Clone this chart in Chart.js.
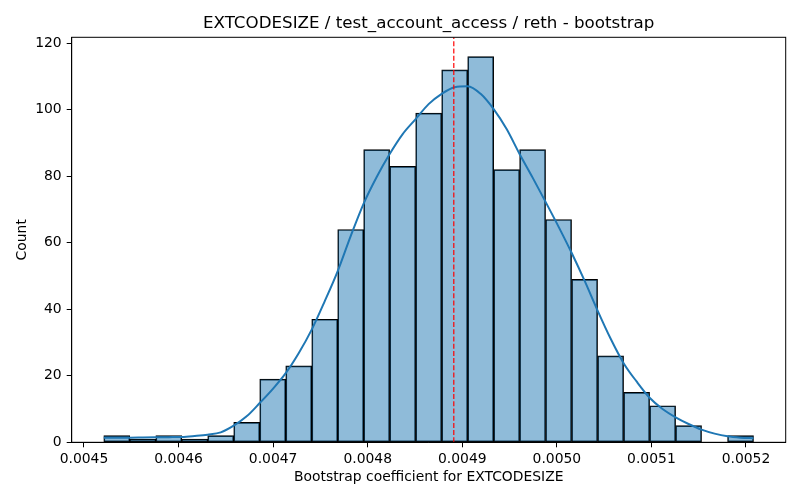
<!DOCTYPE html>
<html>
<head>
<meta charset="utf-8">
<script src="https://cdn.jsdelivr.net/npm/chart.js@4.4.1/dist/chart.umd.min.js"></script>
<style>
  body { margin: 0; background: #fff; }
  canvas { display: block; }
</style>
</head>
<body>
<canvas id="chart" width="800" height="500"></canvas>
<script>
// histogram bin edges (25 bins)
const binEdges = [
  0.0045209, 0.0045484, 0.0045759, 0.0046034, 0.0046308, 0.0046583,
  0.0046858, 0.0047133, 0.0047408, 0.0047683, 0.0047957, 0.0048232,
  0.0048507, 0.0048782, 0.0049057, 0.0049332, 0.0049606, 0.0049881,
  0.0050156, 0.0050431, 0.0050706, 0.0050981, 0.0051256, 0.0051530,
  0.0051805, 0.0052080,
];
const binCounts = [
  2, 1, 2, 1, 2, 6, 19, 23, 37, 64, 88, 83, 99,
  112, 116, 82, 88, 67, 49, 26, 15, 11, 5, 0, 2,
];

// kde curve (count scale)
const kdeX = [
  0.0045209, 0.0045346, 0.0045484, 0.0045621, 0.0045759, 0.0045896,
  0.0046034, 0.0046171, 0.0046308, 0.0046446, 0.0046583, 0.0046720,
  0.0046858, 0.0046995, 0.0047133, 0.0047270, 0.0047408, 0.0047545,
  0.0047683, 0.0047820, 0.0047957, 0.0048095, 0.0048232, 0.0048370,
  0.0048507, 0.0048644, 0.0048782, 0.0048919, 0.0049057, 0.0049194,
  0.0049332, 0.0049469, 0.0049606, 0.0049744, 0.0049881, 0.0050019,
  0.0050156, 0.0050293, 0.0050431, 0.0050568, 0.0050706, 0.0050843,
  0.0050981, 0.0051118, 0.0051256, 0.0051393, 0.0051530, 0.0051668,
  0.0051805, 0.0051942, 0.0052080,
];
const kdeY = [
  1.4, 1.4, 1.4, 1.45, 1.5, 1.55,
  1.6, 1.9, 2.3, 3.0, 5.0, 7.8,
  11.8, 16.0, 20.8, 26.8, 33.9, 42.4,
  51.5, 62.0, 71.8, 79.8, 86.7, 92.7,
  97.2, 101.7, 104.8, 106.8, 107.1, 104.8,
  100.2, 94.2, 86.7, 79.6, 72.3, 64.8,
  57.0, 48.6, 39.6, 31.2, 23.8, 18.3,
  13.4, 10.0, 7.5, 5.5, 3.8, 2.6,
  1.8, 1.4, 1.2,
];

const meanValue = 0.004891;

const xTicks = [0.0045, 0.0046, 0.0047, 0.0048, 0.0049, 0.0050, 0.0051, 0.0052];
const yTicks = [0, 20, 40, 60, 80, 100, 120];

const chartTitle = 'EXTCODESIZE / test_account_access / reth - bootstrap';
const xLabel = 'Bootstrap coefficient for EXTCODESIZE';
const yLabel = 'Count';

Chart.defaults.font.family = 'DejaVu Sans';
Chart.defaults.font.size = 13.9;
Chart.defaults.color = '#000';

const barData = binCounts.map((c, i) => ({ x: (binEdges[i] + binEdges[i + 1]) / 2, y: c }));
const kdeData = kdeX.map((x, i) => ({ x, y: kdeY[i] }));
const yMax = Math.max(...binCounts) * 1.05;

// draws the box round the plot area, like matplotlib spines
const frame = {
  id: 'frame',
  afterDatasetsDraw(chart) {
    const { ctx, chartArea: a } = chart;
    ctx.save();
    ctx.strokeStyle = '#000';
    ctx.lineWidth = 1;
    ctx.strokeRect(a.left, a.top, a.right - a.left, a.bottom - a.top);
    ctx.restore();
  },
};

const axisGrid = {
  display: true,
  drawOnChartArea: false,
  drawTicks: true,
  tickLength: 5,
  tickColor: '#000',
  tickWidth: 1,
  offset: false,
};

new Chart('chart', {
  type: 'bar',
  data: {
    datasets: [
      {
        type: 'line',
        data: [{ x: meanValue, y: 0 }, { x: meanValue, y: yMax }],
        xAxisID: 'x',
        yAxisID: 'y',
        borderColor: 'rgba(255, 0, 0, 0.85)',
        borderWidth: 1.4,
        borderDash: [5, 2.2],
        pointRadius: 0,
        order: 0,
      },
      {
        type: 'line',
        data: kdeData,
        xAxisID: 'x',
        yAxisID: 'y',
        borderColor: '#1f77b4',
        borderWidth: 2,
        pointRadius: 0,
        tension: 0.4,
        cubicInterpolationMode: 'monotone',
        order: 1,
      },
      {
        type: 'bar',
        data: barData,
        xAxisID: 'x',
        yAxisID: 'y',
        backgroundColor: 'rgba(31, 119, 180, 0.5)',
        borderColor: '#000',
        borderWidth: 1,
        borderSkipped: false,
        barPercentage: 1,
        categoryPercentage: 1,
        grouped: false,
        order: 2,
      },
    ],
  },
  options: {
    responsive: false,
    animation: false,
    layout: { padding: { left: 0, right: 14.3, top: 0, bottom: 0 } },
    plugins: {
      legend: { display: false },
      tooltip: { enabled: false },
      title: { display: false },
    },
    scales: {
      x: {
        type: 'linear',
        offset: false,
        min: 0.004487,
        max: 0.005242,
        grid: axisGrid,
        border: { display: true, color: '#000', width: 1 },
        afterBuildTicks: scale => { scale.ticks = xTicks.map(v => ({ value: v })); },
        afterFit: scale => { scale.height = 57.7; },
        ticks: {
          padding: 4,
          maxRotation: 0,
          callback: v => Number(v).toFixed(4),
        },
        title: {
          display: true,
          text: xLabel,
          padding: { top: 0, bottom: 14.7 },
        },
      },
      y: {
        type: 'linear',
        min: 0,
        max: yMax,
        grid: axisGrid,
        border: { display: true, color: '#000', width: 1 },
        afterBuildTicks: scale => { scale.ticks = yTicks.map(v => ({ value: v })); },
        afterFit: scale => { scale.width = 71.7; },
        ticks: { padding: 5 },
        title: {
          display: true,
          text: yLabel,
          padding: { top: 14.5, bottom: 0 },
        },
      },
      // top axis only carries the title, so it sits centred over the plot
      top: {
        type: 'linear',
        axis: 'x',
        position: 'top',
        display: true,
        min: 0,
        max: 1,
        grid: { display: false },
        border: { display: false },
        ticks: { display: false },
        afterFit: scale => { scale.height = 37.3; },
        title: {
          display: true,
          text: chartTitle,
          font: { size: 16.7 },
          padding: { top: 13.5, bottom: 0 },
        },
      },
    },
  },
  plugins: [frame],
});
</script>
</body>
</html>
